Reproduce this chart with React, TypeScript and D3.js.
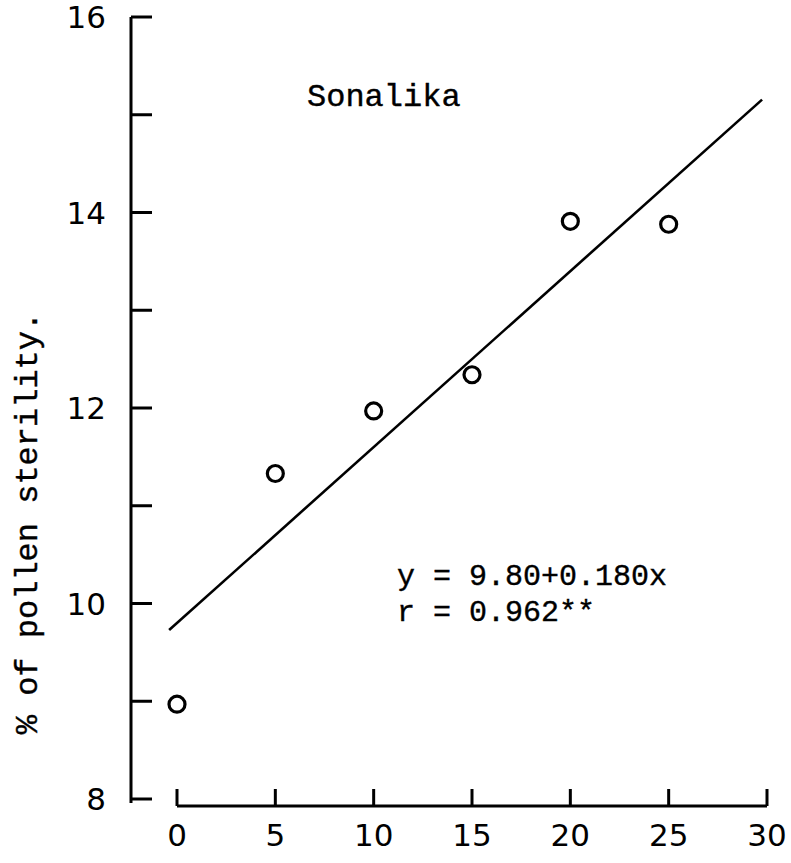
import React from "react";
import * as d3 from "d3";

const doses = [0, 5, 10, 15, 20, 25];
const sterility = [8.97, 11.33, 11.97, 12.34, 13.91, 13.88];
const xTicks = [0, 5, 10, 15, 20, 25, 30];
const yTicks = [8, 9, 10, 11, 12, 13, 14, 15, 16];
const yLabelTicks = [8, 10, 12, 14, 16];
const intercept = 9.8;
const slope = 0.18;
const lineRange = [-0.4, 29.75];
const title = "Sonalika";
const eqText = "y = 9.80+0.180x";
const rText = "r = 0.962**";
const yTitle = "% of pollen sterility.";

export default function App() {
  const W = 791, H = 863;
  const x = d3.scaleLinear().domain([0, 30]).range([177, 767]);
  const y = d3.scaleLinear().domain([8, 16]).range([799, 17]);
  const yAxisX = 131;
  const xAxisY = 806;
  const tickFont = "'DejaVu Sans', sans-serif";
  const mono = "'Liberation Mono', 'DejaVu Sans Mono', monospace";
  const line = d3.line<number>().x((d) => x(d)).y((d) => y(intercept + slope * d));
  return (
    <svg width={W} height={H} style={{ position: "absolute", left: 0, top: 0, background: "#fff" }}>
      <rect x={0} y={0} width={W} height={H} fill="#fff" />
      {/* y axis */}
      <line x1={yAxisX} x2={yAxisX} y1={y(16)} y2={y(8) + 4} stroke="#000" strokeWidth={3} />
      {yTicks.map((t) => (
        <line key={t} x1={yAxisX} x2={yAxisX + 21} y1={y(t)} y2={y(t)} stroke="#000" strokeWidth={3} />
      ))}
      {yLabelTicks.map((t) => (
        <text key={t} x={106} y={y(t)} dy="0.36em" textAnchor="end" fontFamily={tickFont} fontSize={31} fill="#000">
          {t}
        </text>
      ))}
      {/* x axis */}
      <line x1={x(0)} x2={x(30)} y1={xAxisY} y2={xAxisY} stroke="#000" strokeWidth={3} />
      {xTicks.map((t) => (
        <line key={t} x1={x(t)} x2={x(t)} y1={xAxisY} y2={xAxisY - 17} stroke="#000" strokeWidth={3} />
      ))}
      {xTicks.map((t) => (
        <text key={t} x={x(t)} y={846} textAnchor="middle" fontFamily={tickFont} fontSize={31} fill="#000">
          {t}
        </text>
      ))}
      {/* regression line */}
      <path d={line(lineRange) || ""} fill="none" stroke="#000" strokeWidth={2.6} />
      {/* points */}
      {doses.map((d, i) => (
        <circle key={d} cx={x(d)} cy={y(sterility[i])} r={8} fill="none" stroke="#000" strokeWidth={3.2} />
      ))}
      {/* texts */}
      <text x={307} y={106} fontFamily={mono} fontSize={32} fill="#000" stroke="#000" strokeWidth={0.4}>{title}</text>
      <text x={397} y={585} fontFamily={mono} fontSize={30} fill="#000" stroke="#000" strokeWidth={0.4}>{eqText}</text>
      <text x={397} y={621} fontFamily={mono} fontSize={30} fill="#000" stroke="#000" strokeWidth={0.4}>{rText}</text>
      <text
        transform={`translate(37, 523) rotate(-90)`}
        textAnchor="middle"
        fontFamily={mono}
        fontSize={32}
        fill="#000"
        stroke="#000"
        strokeWidth={0.4}
      >
        {yTitle}
      </text>
    </svg>
  );
}
